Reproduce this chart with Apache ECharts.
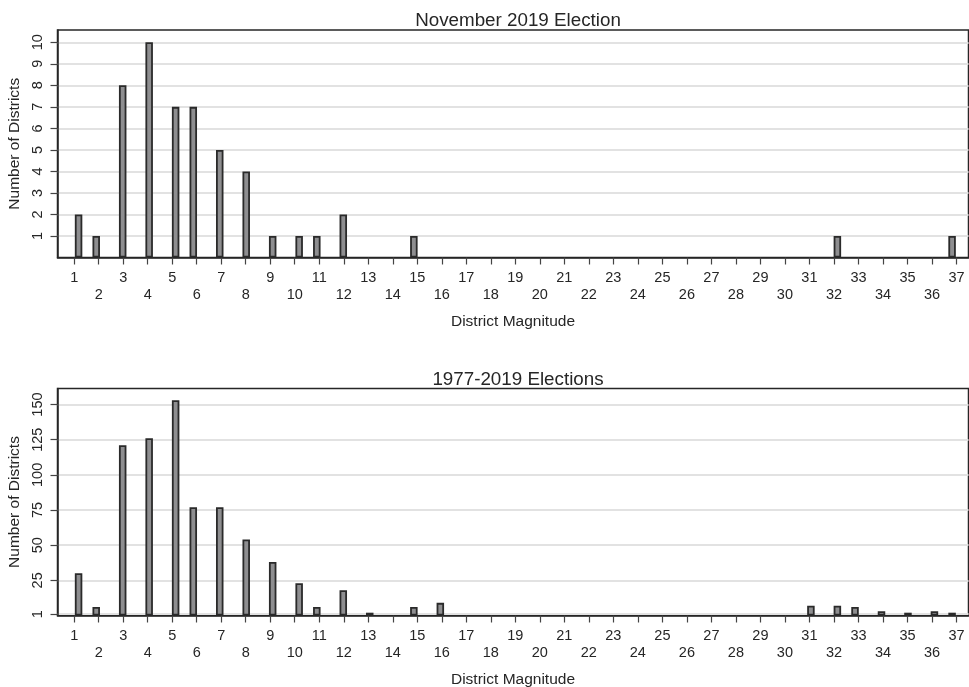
<!DOCTYPE html>
<html>
<head>
<meta charset="utf-8">
<script src="https://cdn.jsdelivr.net/npm/echarts@6/dist/echarts.min.js"></script>
<style>
  html, body { margin: 0; padding: 0; background: #ffffff; }
  #chart { width: 969px; height: 687px; }
</style>
</head>
<body>
<div id="chart"></div>
<script>
// Districts by magnitude, November 2019 general election
const magnitudes2019 = [1, 2, 3, 4, 5, 6, 7, 8, 9, 10, 11, 12, 15, 32, 37];
const districts2019  = [2, 1, 8, 10, 7, 7, 5, 4, 1, 1, 1, 2, 1, 1, 1];

// Districts by magnitude, pooled over all elections 1977-2019
const magnitudesAll = [1, 2, 3, 4, 5, 6, 7, 8, 9, 10, 11, 12, 13, 15, 16, 31, 32, 33, 34, 35, 36, 37];
const districtsAll  = [30, 6, 121, 126, 153, 77, 77, 54, 38, 23, 6, 18, 2, 6, 9, 7, 7, 6, 3, 2, 3, 2];

// Axis tick values
const magnitudeTicks = [1, 2, 3, 4, 5, 6, 7, 8, 9, 10, 11, 12, 13, 14, 15, 16, 17, 18, 19,
                        20, 21, 22, 23, 24, 25, 26, 27, 28, 29, 30, 31, 32, 33, 34, 35, 36, 37];
const countTicks2019 = [1, 2, 3, 4, 5, 6, 7, 8, 9, 10];
const countTicksAll  = [1, 25, 50, 75, 100, 125, 150];

const panelTitles = ['November 2019 Election', '1977-2019 Elections'];
const xAxisName = 'District Magnitude';
const yAxisName = 'Number of Districts';

// Histogram binning: 100 equal bins spanning the magnitude range
const HIST_START = 1, HIST_END = 37, HIST_BINS = 100;
function binCentre(v) {
  let i = Math.floor((v - HIST_START) * HIST_BINS / (HIST_END - HIST_START));
  i = Math.min(Math.max(i, 0), HIST_BINS - 1);
  return HIST_START + (i + 0.5) * (HIST_END - HIST_START) / HIST_BINS;
}
function histogram(mags, counts) {
  return mags.map((m, k) => [binCentre(m), counts[k]]);
}

const FONT = '"Liberation Sans", Arial, Helvetica, sans-serif';
const INK = '#262626';

// Fixed plot rectangles; outer bounds are not auto-fitted
const grids = [
  { left: 57.5, top: 30, width: 911, height: 227.5 },
  { left: 57.5, top: 388.5, width: 911, height: 227 }
];

function xAxis(gridIndex) {
  return {
    type: 'value', gridIndex: gridIndex,
    min: 0.32, max: 37.49,
    name: xAxisName, nameLocation: 'middle', nameGap: 56,
    nameTextStyle: { fontFamily: FONT, fontSize: 15.5, color: INK },
    axisLine: { show: true, onZero: false, lineStyle: { color: INK, width: 1.5 } },
    axisTick: { show: true, customValues: magnitudeTicks, length: 7, lineStyle: { color: '#444', width: 1.2 } },
    axisLabel: {
      customValues: magnitudeTicks, margin: 12,
      fontFamily: FONT, fontSize: 14.5, color: INK, lineHeight: 17,
      formatter: v => (v % 2 === 0 ? '\n' + v : String(v))
    },
    splitLine: { show: false }
  };
}

function yAxis(gridIndex, max, ticks) {
  return {
    type: 'value', gridIndex: gridIndex,
    min: 0, max: max,
    name: yAxisName, nameLocation: 'middle', nameGap: 35, nameRotate: 90,
    nameTextStyle: { fontFamily: FONT, fontSize: 15.5, color: INK },
    axisLine: { show: true, lineStyle: { color: INK, width: 1.5 } },
    axisTick: { show: true, customValues: ticks, length: 7, lineStyle: { color: '#444', width: 1.2 } },
    axisLabel: {
      customValues: ticks, rotate: 90, margin: 12,
      fontFamily: FONT, fontSize: 14.5, color: INK
    },
    splitLine: { show: true, lineStyle: { color: '#e2e2e2', width: 1.8 } }
  };
}

function barSeries(idx, data) {
  return {
    type: 'bar', xAxisIndex: idx, yAxisIndex: idx,
    data: data, barWidth: 7.5,
    itemStyle: { color: '#8e8e90', borderColor: '#2a2a2a', borderWidth: 1.8 },
    silent: true, animation: false
  };
}

const chart = echarts.init(document.getElementById('chart'), null, { renderer: 'canvas' });
chart.setOption({
  backgroundColor: '#ffffff',
  animation: false,
  title: [
    { text: panelTitles[0], left: 513, top: 6, textAlign: 'center',
      textStyle: { fontFamily: FONT, fontSize: 18.8, fontWeight: 'normal', color: INK } },
    { text: panelTitles[1], left: 513, top: 365, textAlign: 'center',
      textStyle: { fontFamily: FONT, fontSize: 18.8, fontWeight: 'normal', color: INK } }
  ],
  grid: grids.map(g => Object.assign({
    show: true, borderColor: INK, borderWidth: 1.5, backgroundColor: 'transparent',
    containLabel: false, outerBoundsMode: 'none'
  }, g)),
  xAxis: [xAxis(0), xAxis(1)],
  yAxis: [yAxis(0, 10.57, countTicks2019), yAxis(1, 161.4, countTicksAll)],
  series: [
    barSeries(0, histogram(magnitudes2019, districts2019)),
    barSeries(1, histogram(magnitudesAll, districtsAll))
  ]
});
</script>
</body>
</html>
